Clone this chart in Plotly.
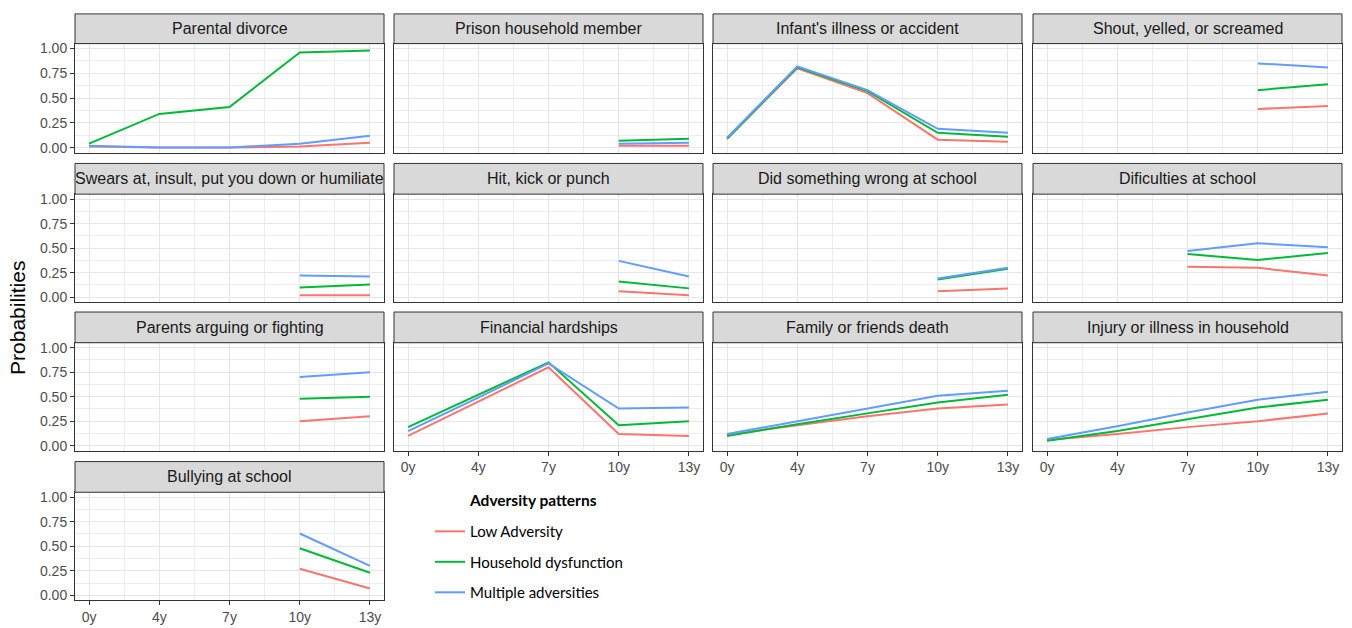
import plotly.graph_objects as go

W, H = 1352, 628

ages = ["0y", "4y", "7y", "10y", "13y"]
groups = ["Low Adversity", "Household dysfunction", "Multiple adversities"]
colors = ["#F8766D", "#00BA38", "#619CFF"]

titles = [
    "Parental divorce", "Prison household member", "Infant's illness or accident", "Shout, yelled, or screamed",
    "Swears at, insult, put you down or humiliate", "Hit, kick or punch", "Did something wrong at school", "Dificulties at school",
    "Parents arguing or fighting", "Financial hardships", "Family or friends death", "Injury or illness in household",
    "Bullying at school",
]

N = None
low_adversity = [
    [0.01, 0.00, 0.00, 0.01, 0.05],
    [N, N, N, 0.02, 0.02],
    [0.09, 0.80, 0.55, 0.08, 0.06],
    [N, N, N, 0.39, 0.42],
    [N, N, N, 0.02, 0.02],
    [N, N, N, 0.06, 0.02],
    [N, N, N, 0.06, 0.09],
    [N, N, 0.31, 0.30, 0.22],
    [N, N, N, 0.25, 0.30],
    [0.10, 0.45, 0.80, 0.12, 0.10],
    [0.11, 0.21, 0.30, 0.38, 0.42],
    [0.06, 0.12, 0.19, 0.25, 0.33],
    [N, N, N, 0.27, 0.07],
]
household_dysfunction = [
    [0.04, 0.34, 0.41, 0.96, 0.98],
    [N, N, N, 0.07, 0.09],
    [0.09, 0.81, 0.57, 0.15, 0.11],
    [N, N, N, 0.58, 0.64],
    [N, N, N, 0.10, 0.13],
    [N, N, N, 0.16, 0.09],
    [N, N, N, 0.18, 0.29],
    [N, N, 0.44, 0.38, 0.45],
    [N, N, N, 0.48, 0.50],
    [0.19, 0.52, 0.85, 0.21, 0.25],
    [0.10, 0.22, 0.33, 0.44, 0.52],
    [0.05, 0.15, 0.27, 0.39, 0.47],
    [N, N, N, 0.48, 0.23],
]
multiple_adversities = [
    [0.02, 0.00, 0.00, 0.04, 0.12],
    [N, N, N, 0.04, 0.05],
    [0.10, 0.82, 0.58, 0.19, 0.15],
    [N, N, N, 0.85, 0.81],
    [N, N, N, 0.22, 0.21],
    [N, N, N, 0.37, 0.21],
    [N, N, N, 0.19, 0.30],
    [N, N, 0.47, 0.55, 0.51],
    [N, N, N, 0.70, 0.75],
    [0.15, 0.49, 0.84, 0.38, 0.39],
    [0.12, 0.25, 0.38, 0.51, 0.56],
    [0.07, 0.20, 0.34, 0.47, 0.55],
    [N, N, N, 0.63, 0.30],
]
series = [low_adversity, household_dysfunction, multiple_adversities]

y_ticks = [0, 0.25, 0.5, 0.75, 1.0]
y_ticktext = ["0.00", "0.25", "0.50", "0.75", "1.00"]

# layout boxes (pixels)
col_x = [(75, 384), (394, 703), (713, 1022), (1033, 1342)]
row_y = [(11, 41, 151), (162, 193, 302), (312, 343, 452), (463, 494, 603)]

xpos = list(range(len(ages)))
TICKFONT = dict(family="Liberation Sans, Arial, sans-serif", size=14, color="#4D4D4D")

fig = go.Figure()
shapes = []
annotations = []
layout_axes = {}

bottom_panels = {9, 10, 11, 12}
for i, title in enumerate(titles):
    r, c = divmod(i, 4)
    x0, x1 = col_x[c]
    ys, yt, yb = row_y[r]
    n = i + 1
    xa = "xaxis" if n == 1 else f"xaxis{n}"
    ya = "yaxis" if n == 1 else f"yaxis{n}"
    xref = "x" if n == 1 else f"x{n}"
    yref = "y" if n == 1 else f"y{n}"
    layout_axes[xa] = dict(
        domain=[x0 / W, x1 / W], anchor=yref, range=[-0.2, len(ages) - 0.8],
        tickvals=xpos, ticktext=ages, showticklabels=(i in bottom_panels),
        ticks="outside" if i in bottom_panels else "", ticklen=4, tickcolor="#333333",
        tickfont=TICKFONT, showgrid=True, gridcolor="#E6E6E6", gridwidth=1.1, zeroline=False,
        showline=True, mirror=True, linecolor="#333333", linewidth=1,
        minor=dict(tickvals=[p + 0.5 for p in xpos[:-1]], showgrid=True, gridcolor="#EDEDED", gridwidth=0.8),
        fixedrange=True,
    )
    layout_axes[ya] = dict(
        domain=[1 - yb / H, 1 - yt / H], anchor=xref, range=[-0.05, 1.05],
        tickvals=y_ticks, ticktext=y_ticktext, showticklabels=(c == 0),
        ticks="outside" if c == 0 else "", ticklen=4, tickcolor="#333333",
        tickfont=TICKFONT, showgrid=True, gridcolor="#E6E6E6", gridwidth=1.1, zeroline=False,
        showline=True, mirror=True, linecolor="#333333", linewidth=1,
        minor=dict(tickvals=[0.125, 0.375, 0.625, 0.875], showgrid=True, gridcolor="#EDEDED", gridwidth=0.8),
        fixedrange=True,
    )
    for g, (name, col, data) in enumerate(zip(groups, colors, series)):
        fig.add_trace(go.Scatter(
            x=xpos, y=data[i], mode="lines", name=name,
            line=dict(color=col, width=2), xaxis=xref, yaxis=yref,
            showlegend=(i == 0), legendgroup=name, connectgaps=False,
            hoverinfo="skip",
        ))
    # strip
    shapes.append(dict(type="rect", xref="paper", yref="paper",
                       x0=x0 / W, x1=x1 / W, y0=1 - yt / H, y1=1 - ys / H,
                       fillcolor="#D9D9D9", line=dict(color="#333333", width=1), layer="above"))
    annotations.append(dict(text=title, xref="paper", yref="paper",
                            x=(x0 + x1) / 2 / W, y=1 - (ys + yt) / 2 / H,
                            xanchor="center", yanchor="middle", showarrow=False,
                            font=dict(family="Liberation Sans, Arial, sans-serif", size=16, color="#1A1A1A")))

annotations.append(dict(text="Probabilities", xref="paper", yref="paper",
                        x=18 / W, y=1 - 318 / H, textangle=-90, showarrow=False,
                        xanchor="center", yanchor="middle",
                        font=dict(family="Liberation Sans, Arial, sans-serif", size=21, color="#000000")))

# legend title
annotations.append(dict(text="<b>Adversity patterns</b>", xref="paper", yref="paper",
                        x=467 / W, y=1 - 502 / H, showarrow=False,
                        xanchor="left", yanchor="middle",
                        font=dict(family="Lato, sans-serif", size=15.5, color="#000000")))

fig.update_layout(
    width=W, height=H, margin=dict(l=0, r=0, t=0, b=0),
    paper_bgcolor="white", plot_bgcolor="white",
    shapes=shapes, annotations=annotations,
    legend=dict(
        font=dict(family="Lato, sans-serif", size=15, color="#000000"),
        x=430 / W, y=1 - 517 / H, xanchor="left", yanchor="top",
        tracegroupgap=8, bgcolor="rgba(0,0,0,0)", itemwidth=30,
    ),
    **layout_axes,
)

fig.write_html("out.html")
